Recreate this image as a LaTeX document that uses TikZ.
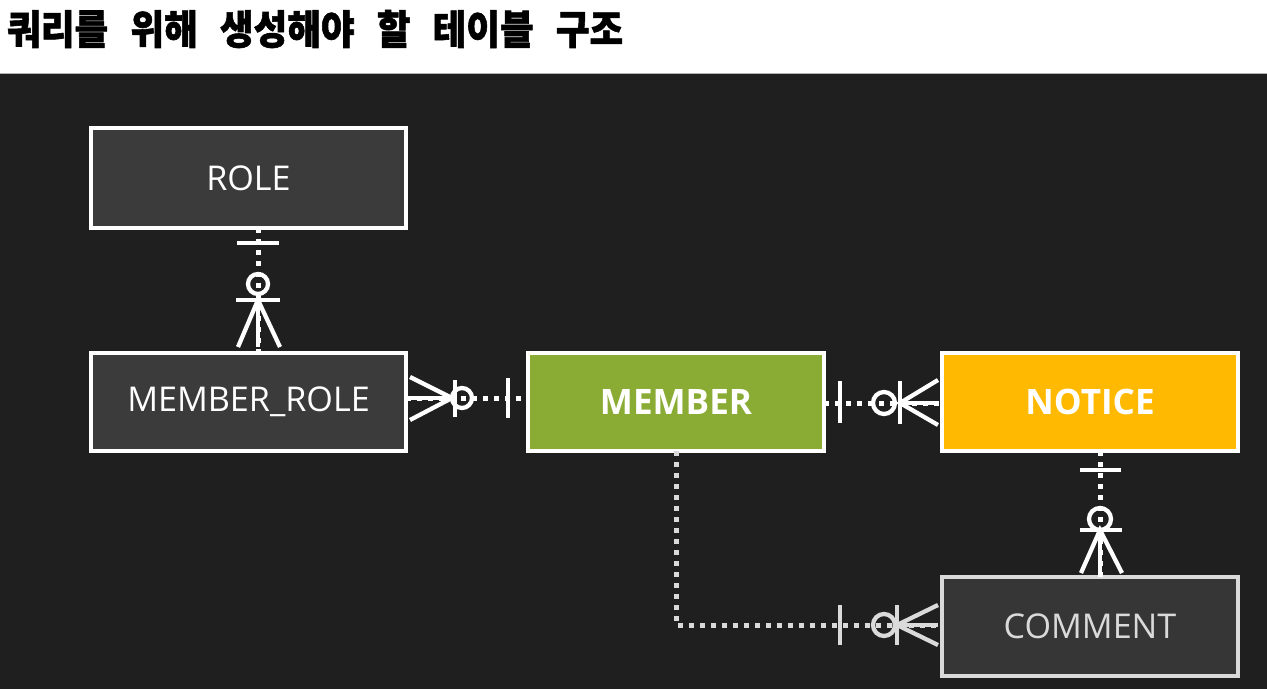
\documentclass[tikz,border=0pt]{standalone}
\usetikzlibrary{calc}
\usepackage{fontspec}
\setmainfont{Open Sans}
\newfontfamily\kr{Noto Sans CJK KR}[BoldFeatures={FakeBold=1.5}]
\definecolor{bg}{HTML}{1F1F1F}
\definecolor{boxdark}{HTML}{3B3B3B}
\definecolor{boxgreen}{HTML}{8AAC34}
\definecolor{boxyellow}{HTML}{FFB900}
\definecolor{soft}{HTML}{DADADA}
\begin{document}
\begin{tikzpicture}[x=0.75pt,y=-0.75pt,
  tbl/.style={draw=white, line width=3pt, outer sep=0pt, text=white,
    minimum width=222pt, minimum height=73.5pt, font=\fontsize{25.6}{28}\selectfont},
  tblb/.style={tbl, font=\bfseries\fontsize{26.3}{28}\selectfont},
  dotline/.style={draw=white, line width=3.75pt, dash pattern=on 3.75pt off 4.5pt},
  mk/.style={draw=white, line width=3.2pt}
]
\useasboundingbox (0,0) rectangle (1267,689);
\fill[white] (0,0) rectangle (1267,73);
\fill[bg] (0,73) rectangle (1267,689);
\draw[gray!60, line width=0.75pt] (0,73) -- (1267,73);

\node[anchor=west, inner sep=0pt] (title) at (7,29)
  {\scalebox{0.98}[1.08]{\kr\bfseries\fontsize{28}{30}\selectfont 쿼리를\hspace{17pt}위해\hspace{17pt}생성해야\hspace{17pt}할\hspace{17pt}테이블\hspace{17pt}구조}};

% tables
\node[tbl, fill=boxdark, minimum width=236pt, minimum height=75pt] (role) at (248.5,178) {ROLE};
\node[tbl, fill=boxdark, minimum width=236pt, minimum height=73.5pt] (mr) at (248.5,402) {MEMBER\_ROLE};
\node[tblb, fill=boxgreen] (member) at (676,402) {MEMBER};
\node[tblb, fill=boxyellow] (notice) at (1090,402) {NOTICE};
\node[tbl, fill=boxdark!92!black, draw=soft, text=soft, minimum height=74.25pt] (comment) at (1090,626.5) {COMMENT};

% connectors (dotted)
\draw[dotline] ($(role.south)+(9.5,0)$) -- ($(mr.north)+(9.5,0)$);
\draw[dotline] ($(mr.east)+(0,-4)$) -- ($(member.west)+(0,-4)$);
\draw[dotline] ($(member.east)+(0,1)$) -- ($(notice.west)+(0,1)$);
\draw[dotline] ($(notice.south)+(10,0)$) -- ($(comment.north)+(10,0)$);
\coordinate (bend) at (676,625);
\draw[dotline, draw=soft] (member.south) -- (bend) -- (comment.west |- bend);

% ROLE - MEMBER_ROLE markers
\draw[mk] (237,243) -- (279,243);
\draw[mk] (258,284) circle (10);
\draw[mk] (236,300) -- (280,300);
\draw[mk] (238,347) -- (258,300) -- (280,347);
\draw[mk] (258,300) -- (258,347);

% MEMBER_ROLE - MEMBER markers
\draw[mk] (410,377) -- (452,398) -- (410,420);
\draw[mk] (410,398) -- (452,398);
\draw[mk] (455,380) -- (455,417);
\draw[mk] (462,398) circle (10);
\draw[mk] (508,378) -- (508,418);

% MEMBER - NOTICE markers
\draw[mk] (840,381) -- (840,423);
\draw[mk] (884,403) circle (11);
\draw[mk] (900,381) -- (900,424);
\draw[mk] (938,380) -- (900,403) -- (938,425);
\draw[mk] (900,403) -- (938,403);

% NOTICE - COMMENT markers
\draw[mk] (1080,470) -- (1121,470);
\draw[mk] (1100,519) circle (11);
\draw[mk] (1080,530) -- (1122,530);
\draw[mk] (1081,573) -- (1100,530) -- (1122,573);
\draw[mk] (1100,530) -- (1100,573);

% MEMBER - COMMENT markers
\draw[mk, draw=soft] (840,605) -- (840,645);
\draw[mk, draw=soft] (884,625) circle (11);
\draw[mk, draw=soft] (897,605) -- (897,645);
\draw[mk, draw=soft] (938,605) -- (897,625) -- (938,645);
\draw[mk, draw=soft] (897,625) -- (938,625);
\end{tikzpicture}
\end{document}
